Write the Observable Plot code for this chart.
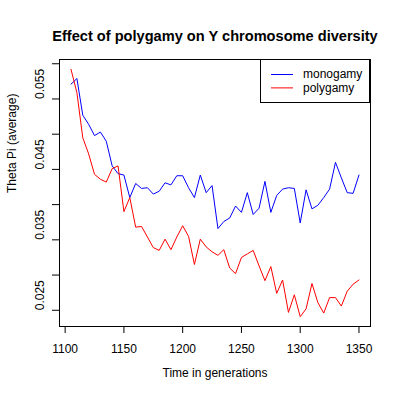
<!DOCTYPE html>
<html>
<head>
<meta charset="utf-8">
<script src="https://cdn.jsdelivr.net/npm/d3@7"></script>
<script src="https://cdn.jsdelivr.net/npm/@observablehq/plot@0.6"></script>
<style>
  html, body { margin: 0; padding: 0; background: #fff; }
  svg { font-family: "Liberation Sans", Arial, Helvetica, sans-serif; }
</style>
</head>
<body>
<div id="chart"></div>
<script>
const title = "Effect of polygamy on Y chromosome diversity";
const xLabel = "Time in generations";
const yLabel = "Theta Pi (average)";
const seriesNames = ["monogamy", "polygamy"];
const seriesColors = ["#0000ff", "#ff0000"];

const generations = [1105, 1110, 1115, 1120, 1125, 1130, 1135, 1140, 1145, 1150,
  1155, 1160, 1165, 1170, 1175, 1180, 1185, 1190, 1195, 1200,
  1205, 1210, 1215, 1220, 1225, 1230, 1235, 1240, 1245, 1250,
  1255, 1260, 1265, 1270, 1275, 1280, 1285, 1290, 1295, 1300,
  1305, 1310, 1315, 1320, 1325, 1330, 1335, 1340, 1345, 1350];

const monogamy = [0.0571, 0.0579, 0.0527, 0.0514, 0.0498, 0.0503, 0.0490, 0.0455, 0.0444, 0.0442,
  0.0410, 0.0430, 0.0423, 0.0424, 0.0415, 0.0419, 0.0431, 0.0428, 0.0441, 0.0441,
  0.0424, 0.0410, 0.0442, 0.0417, 0.0427, 0.0366, 0.0376, 0.0381, 0.0398, 0.0389,
  0.0417, 0.0386, 0.0395, 0.0433, 0.0389, 0.0413, 0.0422, 0.0424, 0.0423, 0.0374,
  0.0421, 0.0394, 0.0399, 0.0410, 0.0422, 0.0460, 0.0438, 0.0417, 0.0416, 0.0442];

const polygamy = [0.0592, 0.0559, 0.0495, 0.0472, 0.0443, 0.0436, 0.0432, 0.0451, 0.0455, 0.0390,
  0.0410, 0.0368, 0.0369, 0.0354, 0.0339, 0.0335, 0.0351, 0.0336, 0.0354, 0.0370,
  0.0355, 0.0315, 0.0351, 0.0340, 0.0333, 0.0328, 0.0336, 0.0310, 0.0302, 0.0325,
  0.0330, 0.0335, 0.0313, 0.0292, 0.0312, 0.0274, 0.0293, 0.0247, 0.0272, 0.0241,
  0.0252, 0.0288, 0.0261, 0.0246, 0.0268, 0.0268, 0.0256, 0.0277, 0.0287, 0.0293];

const xTicks = [1100, 1150, 1200, 1250, 1300, 1350];
const yTicks = [0.025, 0.030, 0.035, 0.040, 0.045, 0.050, 0.055, 0.060];
const yTickLabels = ["0.025", "0.035", "0.045", "0.055"];

const rows = [];
generations.forEach((g, i) => {
  rows.push({gen: g, value: monogamy[i], series: seriesNames[0]});
});
generations.forEach((g, i) => {
  rows.push({gen: g, value: polygamy[i], series: seriesNames[1]});
});

// R-style 4% extension of the data range
const xExt = d3.extent(generations);
const yExt = d3.extent(monogamy.concat(polygamy));
const xPad = (xExt[1] - xExt[0]) * 0.04;
const yPad = (yExt[1] - yExt[0]) * 0.04;

const chart = Plot.plot({
  width: 400,
  height: 400,
  marginLeft: 59,
  marginRight: 30,
  marginTop: 59,
  marginBottom: 74,
  style: {fontFamily: '"Liberation Sans", Arial, Helvetica, sans-serif', fontSize: "12px", background: "#fff"},
  x: {domain: [xExt[0] - xPad, xExt[1] + xPad]},
  y: {domain: [yExt[0] - yPad, yExt[1] + yPad]},
  color: {domain: seriesNames, range: seriesColors},
  marks: [
    Plot.frame({stroke: "#000", strokeWidth: 1}),
    Plot.axisX({ticks: xTicks, tickSize: 7, tickPadding: 11, tickFormat: d => String(d), fontSize: 12, label: null, stroke: "#000"}),
    Plot.axisY({ticks: yTicks, tickSize: 7, tickFormat: () => "", label: null, stroke: "#000"}),
    Plot.text(yTickLabels, {y: d => +d, text: d => d, frameAnchor: "left", dx: -19, rotate: -90, fontSize: 12, fill: "#000"}),
    Plot.lineY(rows, {x: "gen", y: "value", stroke: "series", strokeWidth: 1}),
    Plot.text([title], {text: d => d, frameAnchor: "top", dy: -29, fontSize: 14.6, fontWeight: "bold", fill: "#000"}),
    Plot.text([xLabel], {text: d => d, frameAnchor: "bottom", dy: 50, fontSize: 12, fill: "#000"}),
    Plot.text([yLabel], {text: d => d, frameAnchor: "left", dx: -47, rotate: -90, fontSize: 12, fill: "#000"})
  ]
});

// Legend in the top-right corner of the frame (R-style boxed legend)
const svg = d3.select(chart);
const frameRight = 400 - 30;
const frameTop = 59;
const lg = svg.append("g").attr("text-anchor", "start");
const boxW = 110, boxH = 43;
lg.append("rect")
  .attr("x", frameRight - boxW + 0.5).attr("y", frameTop + 0.5)
  .attr("width", boxW - 1).attr("height", boxH)
  .attr("fill", "#fff").attr("stroke", "#000");
seriesNames.forEach((name, i) => {
  const yy = frameTop + 15.5 + i * 13.4;
  lg.append("line")
    .attr("x1", frameRight - boxW + 11).attr("x2", frameRight - boxW + 33)
    .attr("y1", yy).attr("y2", yy)
    .attr("stroke", seriesColors[i]).attr("stroke-width", 1);
  lg.append("text")
    .attr("x", frameRight - boxW + 43).attr("y", yy)
    .attr("dy", "0.32em")
    .attr("text-anchor", "start")
    .attr("font-size", 12).attr("fill", "#000")
    .text(name);
});

document.getElementById("chart").appendChild(chart);
</script>
</body>
</html>
